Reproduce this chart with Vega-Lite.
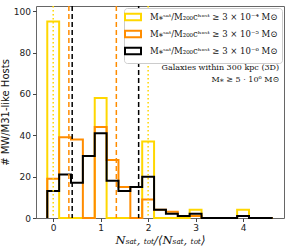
{
  "$schema": "https://vega.github.io/schema/vega-lite/v6.json",
  "width": 248,
  "height": 212,
  "autosize": {"type": "none"},
  "padding": {"left": 36, "top": 6, "right": 7, "bottom": 30},
  "config": {
    "view": {"stroke": "#666", "strokeWidth": 1},
    "axis": {"grid": false, "domain": false, "labelFont": "DejaVu Sans", "labelFontSize": 9, "labelColor": "#222", "tickColor": "#444", "tickSize": 3.5, "labelPadding": 2, "titleFontWeight": "normal", "titleColor": "#111"}
  },
  "resolve": {"scale": {"color": "independent"}, "legend": {"color": "independent"}},
  "datasets": {
    "hist": [
      {"thr": "10⁻⁴", "k": 0, "x": -0.125, "n": 0},
      {"thr": "10⁻⁴", "k": 1, "x": -0.125, "n": 95},
      {"thr": "10⁻⁴", "k": 2, "x": 0.125, "n": 0},
      {"thr": "10⁻⁴", "k": 3, "x": 0.375, "n": 0},
      {"thr": "10⁻⁴", "k": 4, "x": 0.625, "n": 0},
      {"thr": "10⁻⁴", "k": 5, "x": 0.875, "n": 58},
      {"thr": "10⁻⁴", "k": 6, "x": 1.125, "n": 0},
      {"thr": "10⁻⁴", "k": 7, "x": 1.375, "n": 0},
      {"thr": "10⁻⁴", "k": 8, "x": 1.625, "n": 0},
      {"thr": "10⁻⁴", "k": 9, "x": 1.875, "n": 37},
      {"thr": "10⁻⁴", "k": 10, "x": 2.125, "n": 0},
      {"thr": "10⁻⁴", "k": 11, "x": 2.375, "n": 0},
      {"thr": "10⁻⁴", "k": 12, "x": 2.625, "n": 0},
      {"thr": "10⁻⁴", "k": 13, "x": 2.875, "n": 4},
      {"thr": "10⁻⁴", "k": 14, "x": 3.125, "n": 0},
      {"thr": "10⁻⁴", "k": 15, "x": 3.375, "n": 0},
      {"thr": "10⁻⁴", "k": 16, "x": 3.625, "n": 0},
      {"thr": "10⁻⁴", "k": 17, "x": 3.875, "n": 4},
      {"thr": "10⁻⁴", "k": 18, "x": 4.125, "n": 0},
      {"thr": "10⁻⁴", "k": 19, "x": 4.375, "n": 0},
      {"thr": "10⁻⁴", "k": 20, "x": 4.625, "n": 0},
      {"thr": "10⁻⁵", "k": 0, "x": -0.125, "n": 0},
      {"thr": "10⁻⁵", "k": 1, "x": -0.125, "n": 19},
      {"thr": "10⁻⁵", "k": 2, "x": 0.125, "n": 39},
      {"thr": "10⁻⁵", "k": 3, "x": 0.375, "n": 38},
      {"thr": "10⁻⁵", "k": 4, "x": 0.625, "n": 0},
      {"thr": "10⁻⁵", "k": 5, "x": 0.875, "n": 44},
      {"thr": "10⁻⁵", "k": 6, "x": 1.125, "n": 28},
      {"thr": "10⁻⁵", "k": 7, "x": 1.375, "n": 15},
      {"thr": "10⁻⁵", "k": 8, "x": 1.625, "n": 0},
      {"thr": "10⁻⁵", "k": 9, "x": 1.875, "n": 9},
      {"thr": "10⁻⁵", "k": 10, "x": 2.125, "n": 4},
      {"thr": "10⁻⁵", "k": 11, "x": 2.375, "n": 3},
      {"thr": "10⁻⁵", "k": 12, "x": 2.625, "n": 1},
      {"thr": "10⁻⁵", "k": 13, "x": 2.875, "n": 1},
      {"thr": "10⁻⁵", "k": 14, "x": 3.125, "n": 0},
      {"thr": "10⁻⁵", "k": 15, "x": 3.375, "n": 0},
      {"thr": "10⁻⁵", "k": 16, "x": 3.625, "n": 0},
      {"thr": "10⁻⁵", "k": 17, "x": 3.875, "n": 1},
      {"thr": "10⁻⁵", "k": 18, "x": 4.125, "n": 0},
      {"thr": "10⁻⁵", "k": 19, "x": 4.375, "n": 0},
      {"thr": "10⁻⁵", "k": 20, "x": 4.625, "n": 0},
      {"thr": "10⁻⁶", "k": 0, "x": -0.125, "n": 0},
      {"thr": "10⁻⁶", "k": 1, "x": -0.125, "n": 13},
      {"thr": "10⁻⁶", "k": 2, "x": 0.125, "n": 21},
      {"thr": "10⁻⁶", "k": 3, "x": 0.375, "n": 17},
      {"thr": "10⁻⁶", "k": 4, "x": 0.625, "n": 30},
      {"thr": "10⁻⁶", "k": 5, "x": 0.875, "n": 41},
      {"thr": "10⁻⁶", "k": 6, "x": 1.125, "n": 18},
      {"thr": "10⁻⁶", "k": 7, "x": 1.375, "n": 13},
      {"thr": "10⁻⁶", "k": 8, "x": 1.625, "n": 15},
      {"thr": "10⁻⁶", "k": 9, "x": 1.875, "n": 20},
      {"thr": "10⁻⁶", "k": 10, "x": 2.125, "n": 4},
      {"thr": "10⁻⁶", "k": 11, "x": 2.375, "n": 2},
      {"thr": "10⁻⁶", "k": 12, "x": 2.625, "n": 1},
      {"thr": "10⁻⁶", "k": 13, "x": 2.875, "n": 2},
      {"thr": "10⁻⁶", "k": 14, "x": 3.125, "n": 0},
      {"thr": "10⁻⁶", "k": 15, "x": 3.375, "n": 0},
      {"thr": "10⁻⁶", "k": 16, "x": 3.625, "n": 0},
      {"thr": "10⁻⁶", "k": 17, "x": 3.875, "n": 1},
      {"thr": "10⁻⁶", "k": 18, "x": 4.125, "n": 0},
      {"thr": "10⁻⁶", "k": 19, "x": 4.375, "n": 0},
      {"thr": "10⁻⁶", "k": 20, "x": 4.625, "n": 0}
    ],
    "pct": [
      {"g": "10⁻⁴", "x": 0},
      {"g": "10⁻⁴", "x": 2},
      {"g": "10⁻⁵", "x": 0.33},
      {"g": "10⁻⁵", "x": 1.33},
      {"g": "10⁻⁶", "x": 0.4},
      {"g": "10⁻⁶", "x": 1.8}
    ],
    "notes": [
      {"t": "Galaxies within 300 kpc (3D)", "v": 72.3},
      {"t": "M⁎ ≥ 5 · 10⁶ M⊙", "v": 66.5}
    ]
  },
  "layer": [
    {
      "data": {"name": "hist"},
      "mark": {"type": "line", "interpolate": "step-after", "strokeWidth": 2},
      "encoding": {
        "x": {"field": "x", "type": "quantitative", "scale": {"domain": [-0.3625, 4.8625], "nice": false, "zero": false},
              "axis": {"values": [0, 1, 2, 3, 4], "title": "Nₛₐₜ, ₜₒₜ/⟨Nₛₐₜ, ₜₒₜ⟩", "titleFont": "DejaVu Serif", "titleFontStyle": "italic", "titleFontSize": 11.5, "titlePadding": 2}},
        "y": {"field": "n", "type": "quantitative", "scale": {"domain": [0, 102.5], "nice": false},
              "axis": {"values": [0, 20, 40, 60, 80, 100], "title": "# MW/M31-like Hosts", "titleFont": "DejaVu Sans", "titleFontSize": 10, "titlePadding": 3}},
        "order": {"field": "k", "type": "quantitative"},
        "color": {"field": "thr", "type": "nominal",
                  "scale": {"domain": ["10⁻⁴", "10⁻⁵", "10⁻⁶"], "range": ["#FFD700", "#FF8C00", "#000000"]},
                  "legend": {"title": null, "orient": "top-right", "offset": 2, "fillColor": "white", "strokeColor": "#cccccc", "cornerRadius": 3, "padding": 4,
                             "symbolType": "M-2,-0.84H2V0.84H-2Z", "symbolSize": 64, "symbolStrokeWidth": 2, "symbolFillColor": "white",
                             "labelFont": "DejaVu Serif", "labelFontSize": 8.5, "labelColor": "#111", "labelOffset": 12, "rowPadding": 1, "labelLimit": 200,
                             "labelExpr": "'M⁎ˢᵃᵗ/M₂₀₀cʰᵒˢᵗ ≥ 3 × ' + datum.label + ' M⊙'"}}
      }
    },
    {
      "data": {"name": "pct"},
      "mark": {"type": "rule", "strokeWidth": 1.5},
      "encoding": {
        "x": {"field": "x", "type": "quantitative"},
        "color": {"field": "g", "type": "nominal", "legend": null,
                  "scale": {"domain": ["10⁻⁴", "10⁻⁵", "10⁻⁶"], "range": ["#FFD700", "#FF8C00", "#000000"]}},
        "strokeDash": {"field": "g", "type": "nominal", "legend": null,
                       "scale": {"domain": ["10⁻⁴", "10⁻⁵", "10⁻⁶"], "range": [[1.5, 2.5], [5, 3], [5, 3]]}}
      }
    },
    {
      "data": {"name": "notes"},
      "mark": {"type": "text", "align": "right", "baseline": "middle", "font": "DejaVu Serif", "fontSize": 8, "color": "#111"},
      "encoding": {
        "x": {"datum": 4.76},
        "y": {"field": "v", "type": "quantitative"},
        "text": {"field": "t", "type": "nominal"}
      }
    }
  ]
}
